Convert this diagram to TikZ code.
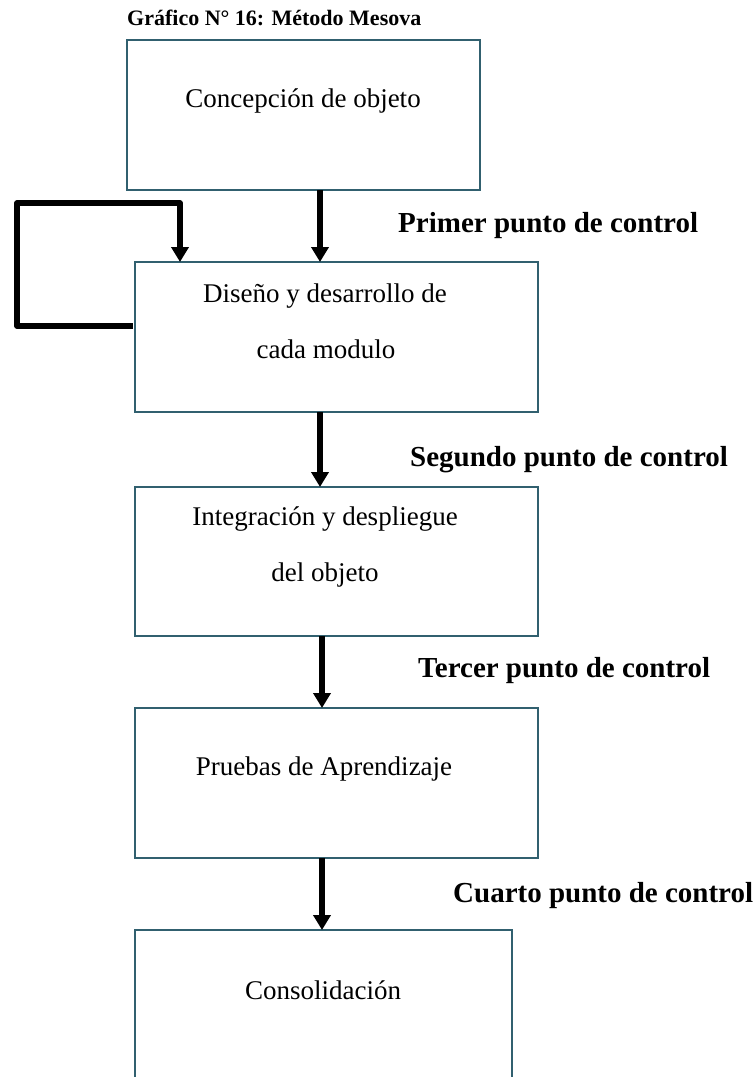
\documentclass[tikz,border=0pt]{standalone}
\usepackage{fontspec}
\setmainfont{Liberation Serif}
\usetikzlibrary{arrows.meta}
\definecolor{boxline}{HTML}{31606F}
\tikzset{
  stagebox/.style={draw=boxline, line width=1.6pt, fill=white, inner sep=0pt, outer sep=0pt},
  boxtext/.style={anchor=base, inner sep=0pt, font=\fontsize{27}{32}\selectfont},
  ctrltext/.style={anchor=base west, inner sep=0pt, font=\fontsize{29}{34}\selectfont\bfseries},
  flowarrow/.style={line width=5.2pt, -{Triangle[width=17pt,length=15pt]}},
}
\begin{document}
\begin{tikzpicture}[x=1pt,y=-1pt]
\useasboundingbox (0,0) rectangle (755,1077);
% title
\node[anchor=base west, inner sep=0pt, font=\fontsize{22}{26}\selectfont\bfseries] (title) at (127,25) {Gráfico N° 16: Método Mesova};
% boxes
\node[stagebox, minimum width=353pt, minimum height=150pt] (b1) at (303.5,115) {};
\node[stagebox, minimum width=403pt, minimum height=150pt] (b2) at (336.5,337) {};
\node[stagebox, minimum width=403pt, minimum height=149pt] (b3) at (336.5,561.5) {};
\node[stagebox, minimum width=403pt, minimum height=150pt] (b4) at (336.5,783) {};
\coordinate (b5nw) at (135,930);
\coordinate (b5ne) at (512,930);
\coordinate (b5sw) at (135,1080);
\coordinate (b5se) at (512,1080);
\draw[draw=boxline, line width=1.6pt] (b5sw) -- (b5nw) -- (b5ne) -- (b5se);
% box texts
\node[boxtext] (t1) at (303,107) {Concepción de objeto};
\node[boxtext] (t2a) at (325,302) {Diseño y desarrollo de};
\node[boxtext] (t2b) at (326,358) {cada modulo};
\node[boxtext] (t3a) at (325,525) {Integración y despliegue};
\node[boxtext] (t3b) at (325,581) {del objeto};
\node[boxtext] (t4) at (324,775) {Pruebas de Aprendizaje};
\node[boxtext] (t5) at (323,999) {Consolidación};
% control labels
\node[ctrltext] (c1) at (398,232) {Primer punto de control};
\node[ctrltext] (c2) at (410,466) {Segundo punto de control};
\node[ctrltext] (c3) at (418,677) {Tercer punto de control};
\node[ctrltext] (c4) at (453,902) {Cuarto punto de control};
% arrows
\coordinate (ax1) at (320,0);
\coordinate (ax2) at (322,0);
\draw[flowarrow] (b1.south -| ax1) -- (b2.north -| ax1);
\draw[flowarrow] (b2.south -| ax1) -- (b3.north -| ax1);
\draw[flowarrow] (b3.south -| ax2) -- (b4.north -| ax2);
\draw[flowarrow] (b4.south -| ax2) -- (b5nw -| ax2);
% feedback loop
\coordinate (fbcorner) at (17,203);
\draw[flowarrow, line join=round] ([xshift=-2pt,yshift=11pt]b2.west) -| (fbcorner) -| ([xshift=45pt]b2.north west);
\end{tikzpicture}
\end{document}
